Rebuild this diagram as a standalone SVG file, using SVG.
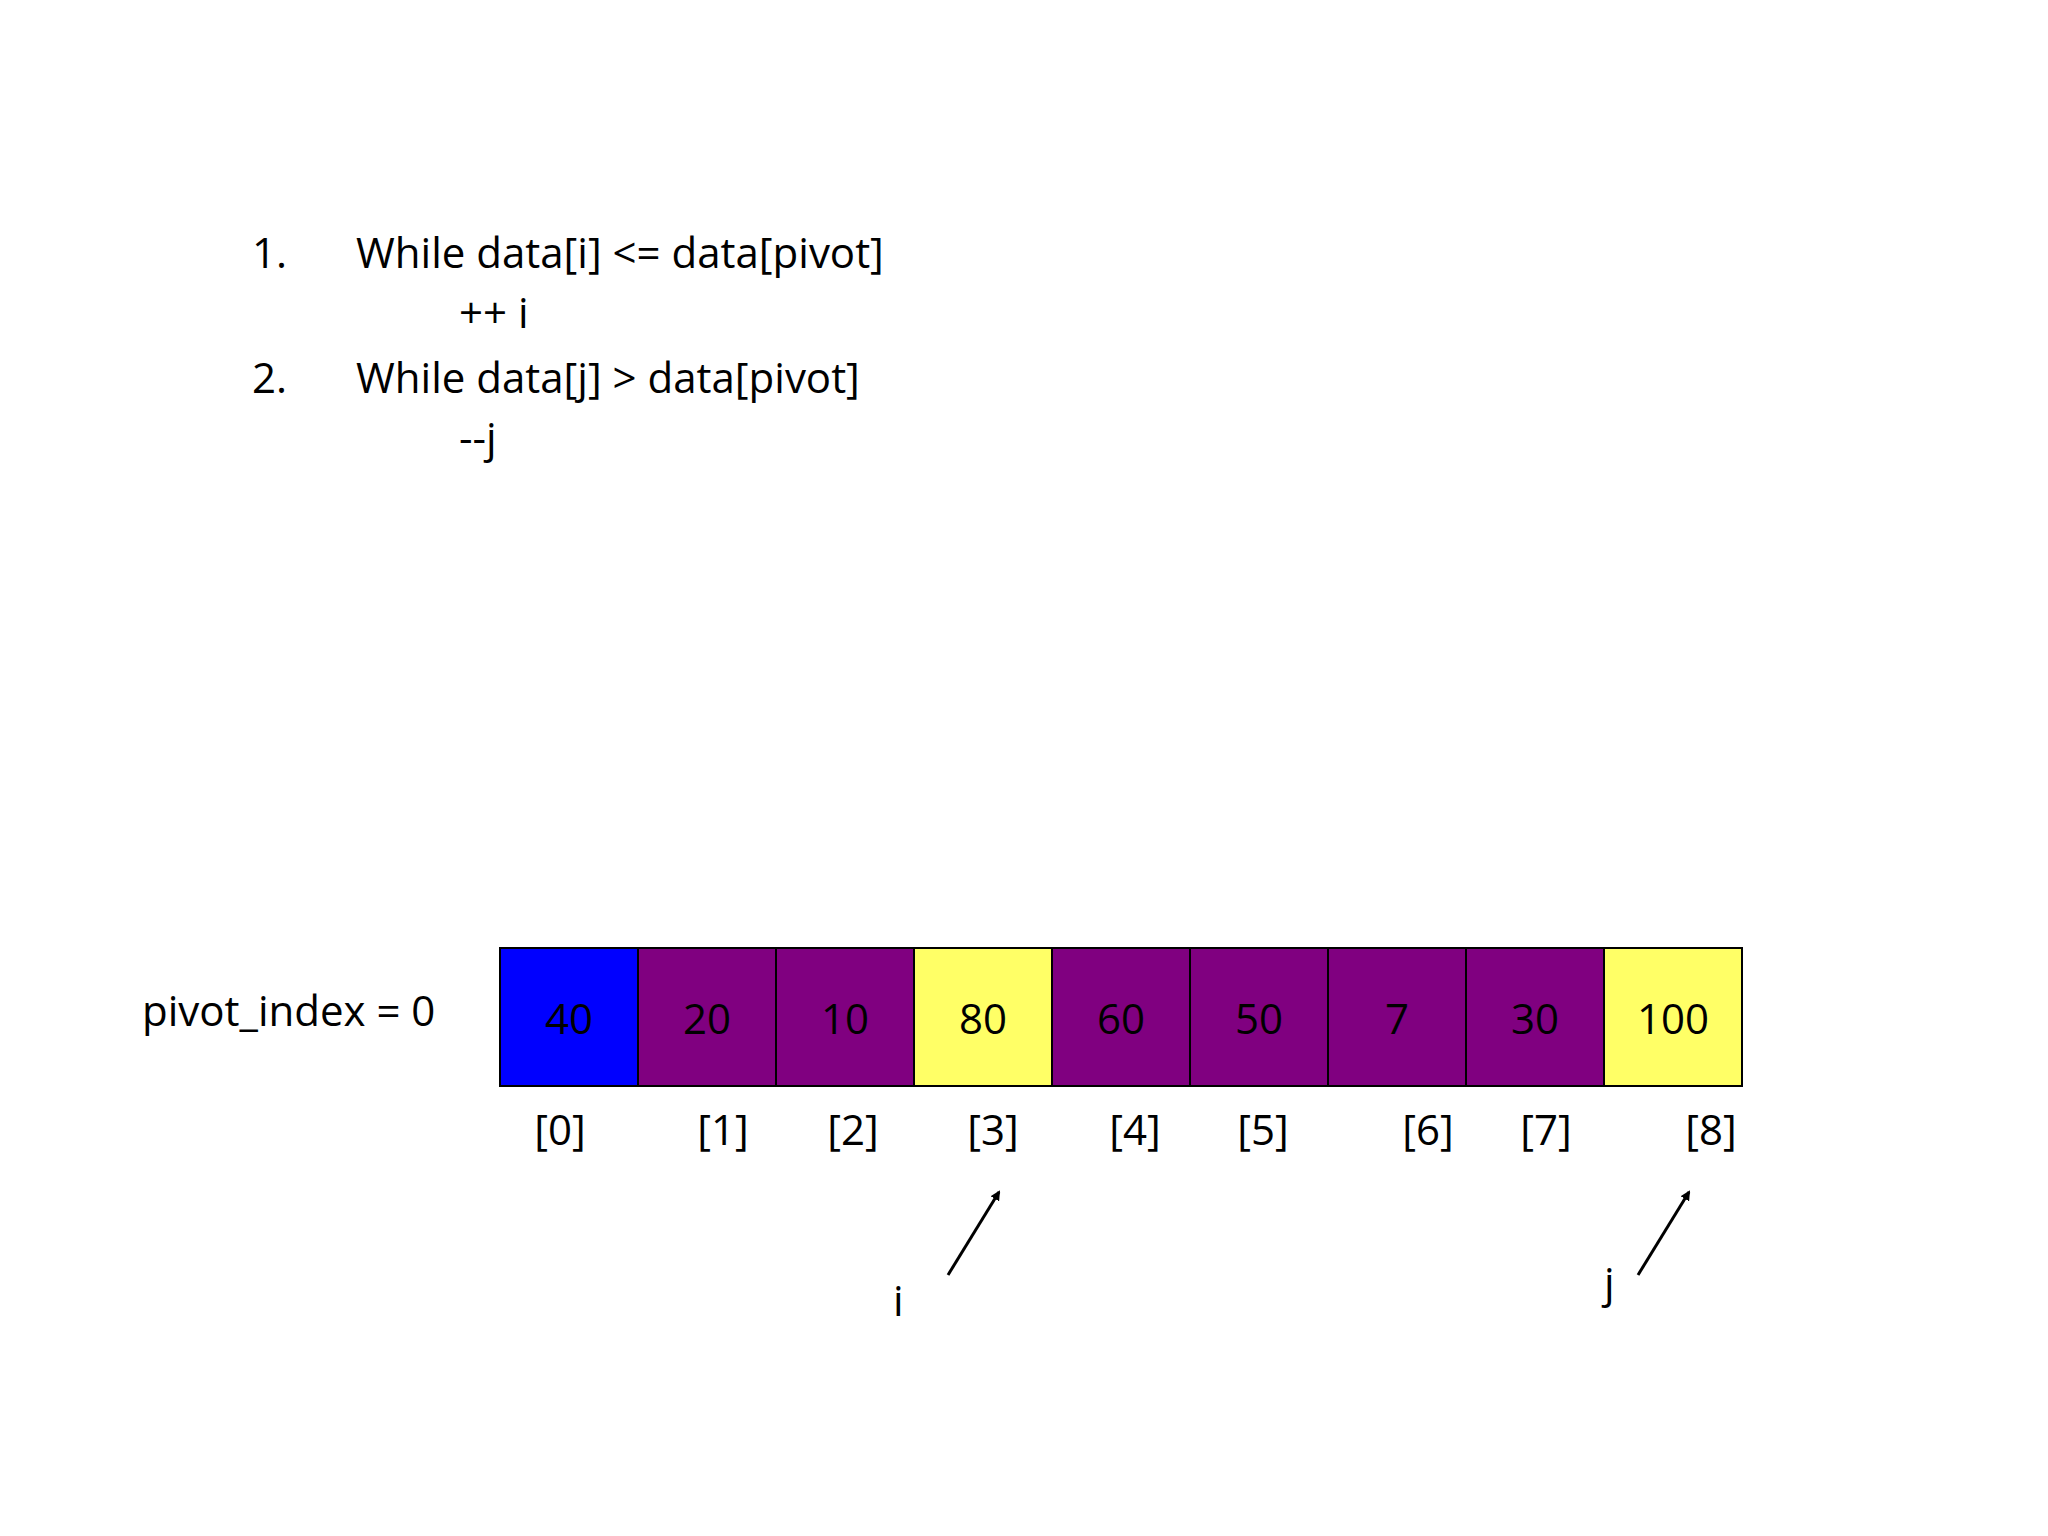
<svg xmlns="http://www.w3.org/2000/svg" width="2048" height="1536" viewBox="0 0 2048 1536">
<style>
text{font-family:"Open Sans","Noto Sans","Liberation Sans",sans-serif;font-size:42px;fill:#000}
.c{stroke:#000;stroke-width:2}
.n{text-anchor:middle}
</style>
<defs><marker id="ah" markerWidth="10" markerHeight="10" refX="8" refY="5" orient="auto" markerUnits="userSpaceOnUse" viewBox="0 0 10 10"><path d="M0,0 L10,5 L0,10 z" fill="#000"/></marker></defs>
<rect width="2048" height="1536" fill="#fff"/>
<g id="code">
<text x="252" y="268">1.</text><text x="356" y="268">While data[i] &lt;= data[pivot]</text>
<text x="459" y="328">++ i</text>
<text x="252" y="393">2.</text><text x="356" y="393">While data[j] &gt; data[pivot]</text>
<text x="459" y="453">--j</text>
</g>
<text id="pivot" x="142" y="1026">pivot_index = 0</text>
<g id="array">
<rect class="c" x="500" y="948" width="138" height="138" fill="#0000ff"/>
<rect class="c" x="638" y="948" width="138" height="138" fill="#800080"/>
<rect class="c" x="776" y="948" width="138" height="138" fill="#800080"/>
<rect class="c" x="914" y="948" width="138" height="138" fill="#ffff66"/>
<rect class="c" x="1052" y="948" width="138" height="138" fill="#800080"/>
<rect class="c" x="1190" y="948" width="138" height="138" fill="#800080"/>
<rect class="c" x="1328" y="948" width="138" height="138" fill="#800080"/>
<rect class="c" x="1466" y="948" width="138" height="138" fill="#800080"/>
<rect class="c" x="1604" y="948" width="138" height="138" fill="#ffff66"/>
<text class="n" x="569" y="1034">40</text><text class="n" x="707" y="1034">20</text><text class="n" x="845" y="1034">10</text><text class="n" x="983" y="1034">80</text><text class="n" x="1121" y="1034">60</text><text class="n" x="1259" y="1034">50</text><text class="n" x="1397" y="1034">7</text><text class="n" x="1535" y="1034">30</text><text class="n" x="1673" y="1034">100</text>
</g>
<g id="indices">
<text class="n" x="560" y="1145">[0]</text><text class="n" x="723" y="1145">[1]</text><text class="n" x="853" y="1145">[2]</text><text class="n" x="993" y="1145">[3]</text><text class="n" x="1135" y="1145">[4]</text><text class="n" x="1263" y="1145">[5]</text><text class="n" x="1428" y="1145">[6]</text><text class="n" x="1546" y="1145">[7]</text><text class="n" x="1711" y="1145">[8]</text>
</g>
<text id="i" x="893" y="1316">i</text>
<text id="j" x="1604" y="1298">j</text>
<g id="connectors">
<line x1="948" y1="1275" x2="999" y2="1192" stroke="#000" stroke-width="3" marker-end="url(#ah)"/>
<line x1="1638" y1="1275" x2="1689" y2="1192" stroke="#000" stroke-width="3" marker-end="url(#ah)"/>
</g>
</svg>
